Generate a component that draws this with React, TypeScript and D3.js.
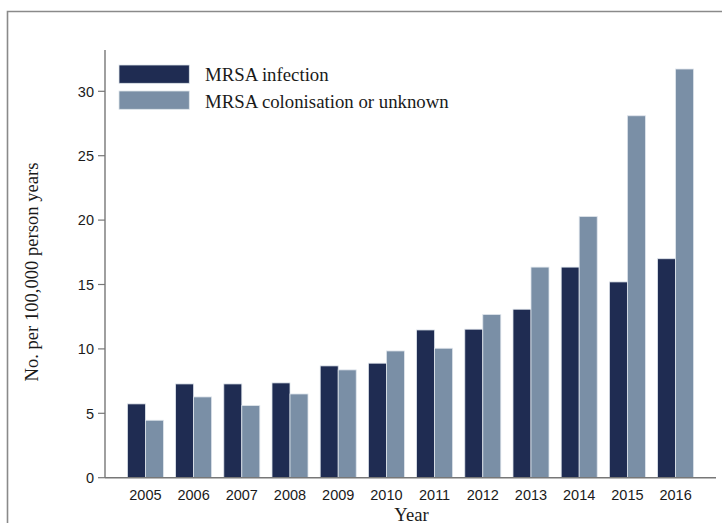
import React from "react";
import * as d3 from "d3";

const years = ["2005","2006","2007","2008","2009","2010","2011","2012","2013","2014","2015","2016"];
const infection = [5.73, 7.28, 7.28, 7.36, 8.68, 8.89, 11.47, 11.53, 13.08, 16.35, 15.2, 17.0];
const colonisation = [4.46, 6.27, 5.6, 6.5, 8.37, 9.84, 10.05, 12.67, 16.35, 20.28, 28.1, 31.73];
const yTicks = [0, 5, 10, 15, 20, 25, 30];
const seriesNames = ["MRSA infection", "MRSA colonisation or unknown"];
const colors = ["#1f2c52", "#7a8fa6"];

export default function App() {
  const W = 722, H = 523;
  const x0 = 105, x1 = 716;
  const y = d3.scaleLinear().domain([0, 30]).range([477.7, 91.3]);
  const x = d3.scaleBand<string>().domain(years).range([x0, x1]).paddingInner(0.253).paddingOuter(0.465);
  const xs = d3.scaleBand<string>().domain(["a", "b"]).range([0, x.bandwidth()]);
  const series = [infection, colonisation];
  const serif = "'Liberation Serif', 'Times New Roman', serif";
  const sans = "'Liberation Sans', Arial, sans-serif";
  return (
    <svg width={W} height={H} style={{ position: "absolute", left: 0, top: 0 }}>
      <rect x={0} y={0} width={W} height={H} fill="#fff" />
      <path d={`M7.5,${H + 5} V11.5 H${W + 5}`} fill="none" stroke="#8a8a8a" strokeWidth={1.6} />
      {series.map((vals, si) =>
        vals.map((v, i) => (
          <rect key={`${si}-${i}`}
            x={(x(years[i]) ?? 0) + (xs(si === 0 ? "a" : "b") ?? 0)}
            y={y(v)}
            width={xs.bandwidth()}
            height={y(0) - y(v)}
            fill={colors[si]}
            stroke="#dfe5ec"
            strokeWidth={0.8} />
        ))
      )}
      <line x1={x0} x2={x0} y1={50} y2={y(0)} stroke="#777" strokeWidth={1.4} />
      <line x1={x0} x2={x1} y1={y(0)} y2={y(0)} stroke="#777" strokeWidth={1.4} />
      {yTicks.map((t) => (
        <g key={t}>
          <line x1={x0 - 7} x2={x0} y1={y(t)} y2={y(t)} stroke="#777" strokeWidth={1.2} />
          <text x={x0 - 11} y={y(t)} dy="0.36em" textAnchor="end" fontFamily={sans} fontSize={14.5} fill="#1a1a1a">{t}</text>
        </g>
      ))}
      {years.map((yr) => (
        <text key={yr} x={(x(yr) ?? 0) + x.bandwidth() / 2} y={499.5} textAnchor="middle" fontFamily={sans} fontSize={14.5} fill="#1a1a1a">{yr}</text>
      ))}
      <text x={411.5} y={521} textAnchor="middle" fontFamily={serif} fontSize={18.6} fill="#1a1a1a">Year</text>
      <text transform={`translate(37.5,272) rotate(-90)`} textAnchor="middle" fontFamily={serif} fontSize={18.6} fill="#1a1a1a">No. per 100,000 person years</text>
      {seriesNames.map((n, i) => (
        <g key={n}>
          <rect x={119} y={65 + i * 26} width={70.3} height={18.3} fill={colors[i]} stroke="#dfe5ec" strokeWidth={0.8} />
          <text x={205} y={80.7 + i * 27.6} fontFamily={serif} fontSize={18.8} fill="#1a1a1a">{n}</text>
        </g>
      ))}
    </svg>
  );
}
